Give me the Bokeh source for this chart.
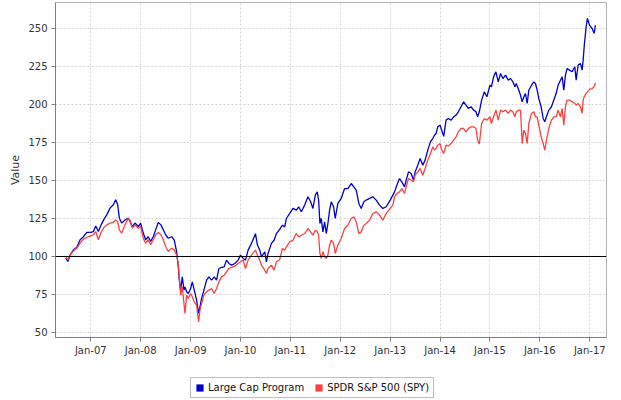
from datetime import datetime
from bokeh.plotting import figure
from bokeh.layouts import column
from bokeh.models import (FixedTicker, DatetimeTickFormatter, Span, Legend, LegendItem,
                          ColumnDataSource, Range1d)
from bokeh.embed import file_html
from bokeh.resources import INLINE

# ---- data ----
t_years = [
    2006.50, 2006.54, 2006.587, 2006.653, 2006.72, 2006.787, 2006.853, 2006.92, 2007.0, 2007.053,
    2007.10, 2007.153, 2007.207, 2007.267, 2007.32, 2007.387, 2007.453, 2007.50, 2007.54, 2007.573,
    2007.62, 2007.687, 2007.753, 2007.787, 2007.833, 2007.887, 2007.953, 2008.0, 2008.053, 2008.10,
    2008.153, 2008.20, 2008.253, 2008.30, 2008.353, 2008.407, 2008.453, 2008.50, 2008.553, 2008.62,
    2008.673, 2008.72, 2008.753, 2008.773, 2008.80, 2008.833, 2008.867, 2008.887, 2008.92, 2008.953,
    2009.0, 2009.033, 2009.073, 2009.12, 2009.16, 2009.187, 2009.22, 2009.267, 2009.32, 2009.367,
    2009.42, 2009.473, 2009.52, 2009.567, 2009.62, 2009.673, 2009.72, 2009.767, 2009.82, 2009.887,
    2009.953, 2010.0, 2010.053, 2010.10, 2010.153, 2010.22, 2010.30, 2010.34, 2010.387, 2010.42,
    2010.487, 2010.52, 2010.553, 2010.62, 2010.673, 2010.72, 2010.787, 2010.84, 2010.887, 2010.92,
    2010.987, 2011.053, 2011.12, 2011.167, 2011.22, 2011.287, 2011.353, 2011.407, 2011.453, 2011.50,
    2011.54, 2011.567, 2011.593, 2011.62, 2011.653, 2011.687, 2011.72, 2011.753, 2011.787, 2011.82,
    2011.867, 2011.90, 2011.953, 2012.02, 2012.087, 2012.153, 2012.22, 2012.273, 2012.32, 2012.373,
    2012.42, 2012.473, 2012.52, 2012.587, 2012.653, 2012.72, 2012.787, 2012.853, 2012.92, 2013.0,
    2013.053, 2013.087, 2013.133, 2013.187, 2013.233, 2013.287, 2013.32, 2013.367, 2013.42, 2013.467,
    2013.50, 2013.553, 2013.60, 2013.653, 2013.70, 2013.753, 2013.807, 2013.853, 2013.887, 2013.92,
    2013.953, 2014.0, 2014.033, 2014.073, 2014.12, 2014.167, 2014.22, 2014.273, 2014.32, 2014.367,
    2014.42, 2014.473, 2014.52, 2014.567, 2014.62, 2014.673, 2014.72, 2014.753, 2014.787, 2014.833,
    2014.887, 2014.94, 2015.0, 2015.03, 2015.073, 2015.12, 2015.167, 2015.213, 2015.26, 2015.313,
    2015.367, 2015.413, 2015.46, 2015.50, 2015.527, 2015.58, 2015.613, 2015.647, 2015.68, 2015.713,
    2015.747, 2015.78, 2015.833, 2015.88, 2015.913, 2015.947, 2015.98, 2016.027, 2016.067, 2016.10,
    2016.133, 2016.18, 2016.233, 2016.28, 2016.327, 2016.367, 2016.413, 2016.447, 2016.48, 2016.513,
    2016.547, 2016.593, 2016.647, 2016.70, 2016.727, 2016.767, 2016.813, 2016.847, 2016.867, 2016.893,
    2016.927, 2016.953, 2016.993, 2017.047, 2017.087, 2017.113,
]

large_cap = [
    99.0, 96.7, 101.0, 104.4, 106.0, 111.0, 113.0, 115.8, 115.8, 116.4,
    120.0, 116.4, 120.8, 124.6, 127.4, 131.8, 134.0, 137.3, 134.0, 125.2,
    122.0, 124.0, 125.2, 123.0, 119.7, 122.0, 119.7, 122.0, 115.4, 111.0,
    113.0, 109.9, 113.0, 117.5, 122.4, 120.8, 117.5, 114.3, 112.0, 113.0,
    110.7, 103.0, 93.2, 84.4, 77.9, 86.6, 77.9, 80.0, 76.8, 75.7,
    78.9, 83.3, 77.9, 71.3, 62.5, 66.9, 72.4, 77.9, 84.4, 86.6,
    84.4, 86.6, 84.4, 92.1, 92.8, 93.2, 97.6, 95.4, 94.3, 95.4,
    97.6, 100.9, 98.7, 97.6, 104.2, 108.6, 115.0, 107.5, 104.2, 99.8,
    103.0, 96.5, 102.0, 108.6, 110.7, 115.0, 117.8, 120.6, 119.5, 125.0,
    128.3, 131.6, 130.5, 132.7, 129.4, 133.8, 139.3, 136.0, 131.6, 140.4,
    142.5, 137.0, 121.7, 125.0, 116.2, 122.8, 115.1, 121.7, 130.5, 136.0,
    132.7, 125.0, 134.9, 138.2, 144.7, 144.7, 148.0, 145.8, 143.6, 134.9,
    131.6, 136.0, 137.1, 138.2, 139.3, 137.1, 133.8, 131.6, 132.7, 137.1,
    140.4, 142.5, 146.9, 151.3, 149.1, 145.8, 150.2, 155.7, 154.6, 150.2,
    155.7, 160.1, 164.5, 160.1, 163.4, 170.0, 175.4, 177.6, 179.8, 180.9,
    185.3, 186.4, 183.1, 179.0, 189.7, 190.8, 189.7, 191.9, 193.0, 195.2,
    198.5, 201.8, 199.6, 197.4, 198.5, 196.3, 195.2, 191.9, 195.2, 202.9,
    208.3, 205.1, 212.7, 211.6, 218.2, 221.5, 214.9, 220.4, 217.1, 219.3,
    216.0, 217.1, 214.9, 211.6, 213.8, 209.4, 206.1, 201.8, 205.0, 207.2,
    200.7, 209.4, 212.7, 214.9, 213.8, 209.4, 203.9, 198.5, 190.8, 188.6,
    191.9, 196.3, 198.5, 202.9, 207.2, 212.7, 216.0, 218.2, 209.4, 219.3,
    223.7, 222.6, 221.5, 224.8, 216.0, 225.9, 227.0, 222.6, 229.2, 240.1,
    251.1, 256.6, 252.2, 250.0, 246.7, 252.2,
]

spy = [
    100.0, 98.0, 101.0, 103.7, 105.5, 108.8, 111.4, 112.5, 113.6, 114.3,
    116.4, 111.0, 115.8, 119.3, 120.8, 121.9, 122.4, 124.0, 123.0, 117.5,
    115.4, 120.8, 125.2, 124.0, 118.6, 120.8, 118.6, 119.7, 112.0, 108.8,
    111.0, 107.7, 111.0, 114.3, 115.8, 114.3, 111.0, 106.6, 103.3, 105.5,
    104.2, 100.9, 95.4, 86.6, 74.6, 80.0, 69.0, 62.5, 74.6, 72.4,
    75.7, 73.5, 70.2, 68.0, 57.0, 64.7, 69.0, 74.6, 76.8, 77.9,
    78.9, 75.7, 78.9, 83.3, 86.6, 87.7, 89.9, 92.1, 92.8, 93.6,
    95.4, 96.5, 97.6, 92.1, 97.6, 100.9, 104.2, 100.9, 97.6, 94.3,
    91.0, 88.8, 92.1, 94.3, 91.0, 96.5, 98.0, 105.3, 104.2, 106.4,
    109.6, 110.7, 115.1, 112.9, 114.0, 115.1, 118.4, 116.2, 114.0, 117.3,
    116.2, 114.0, 102.0, 98.7, 103.1, 99.8, 98.7, 100.9, 107.5, 110.7,
    108.6, 102.0, 107.5, 111.8, 118.4, 120.6, 125.0, 126.1, 122.8, 115.1,
    116.2, 120.6, 121.7, 123.9, 128.3, 129.4, 127.2, 123.9, 128.3, 131.6,
    133.8, 139.3, 141.4, 142.5, 144.7, 141.4, 145.8, 151.3, 150.2, 149.1,
    153.5, 155.7, 157.9, 153.5, 157.9, 163.4, 167.8, 172.1, 170.0, 171.1,
    173.2, 174.3, 170.0, 167.8, 173.2, 172.6, 174.3, 176.5, 178.7, 182.0,
    184.2, 184.2, 182.0, 184.2, 185.3, 185.3, 184.2, 176.5, 174.0, 187.5,
    190.8, 189.7, 191.9, 187.5, 191.9, 196.3, 189.7, 196.3, 195.2, 196.3,
    194.1, 196.3, 195.2, 191.9, 195.2, 196.3, 196.3, 174.3, 183.1, 181.0,
    174.3, 187.5, 194.1, 195.2, 191.9, 191.9, 186.4, 178.7, 174.3, 170.0,
    176.5, 184.2, 189.7, 191.9, 191.9, 196.3, 191.9, 197.4, 186.4, 198.5,
    202.9, 202.9, 201.8, 200.7, 199.6, 200.7, 198.5, 194.1, 202.9, 205.5,
    207.2, 208.3, 209.9, 210.5, 211.6, 214.3,
]

series_names = ["Large Cap Program", "SPDR S&P 500 (SPY)"]
series_colors = ["#0000CC", "#FF4040"]
y_ticks = [50, 75, 100, 125, 150, 175, 200, 225, 250]
x_tick_years = list(range(2007, 2018))
baseline = 100


def dec_to_dt(y):
    yr = int(y)
    a = datetime(yr, 1, 1)
    b = datetime(yr + 1, 1, 1)
    return a + (b - a) * (y - yr)


def dt_ms(d):
    return (d - datetime(1970, 1, 1)).total_seconds() * 1000.0


dates = [dec_to_dt(v) for v in t_years]
src = ColumnDataSource(dict(t=dates, a=large_cap, b=spy))

x_start = dec_to_dt(2006.2926)
x_end = dec_to_dt(2017.335)

p = figure(width=621, height=370, x_axis_type="datetime", output_backend="svg",
           toolbar_location=None,
           x_range=Range1d(x_start, x_end), y_range=Range1d(46.7, 267.1),
           min_border_left=55, min_border_right=15, min_border_top=2, min_border_bottom=33)

p.background_fill_color = "white"
p.border_fill_color = "white"
p.outline_line_color = "#b4b4b4"
p.outline_line_width = 1

# axes
font = "DejaVu Sans"
p.xaxis.ticker = FixedTicker(ticks=[dt_ms(datetime(y, 1, 1)) for y in x_tick_years])
fmt = "%b-%y"
p.xaxis.formatter = DatetimeTickFormatter(
    milliseconds=fmt, seconds=fmt, minsec=fmt, minutes=fmt, hourmin=fmt, hours=fmt,
    days=fmt, months=fmt, years=fmt)
p.yaxis.ticker = FixedTicker(ticks=y_ticks)
p.yaxis.axis_label = "Value"

for ax in (p.xaxis[0], p.yaxis[0]):
    ax.axis_line_color = "#808080"
    ax.major_tick_line_color = "#808080"
    ax.major_tick_in = 0
    ax.major_tick_out = 4
    ax.minor_tick_line_color = None
    ax.major_label_text_font = font
    ax.major_label_text_font_size = "10px"
    ax.major_label_text_color = "#333333"
p.xaxis.major_label_standoff = 3
p.yaxis.major_label_standoff = 4
p.yaxis.axis_label_text_font = font
p.yaxis.axis_label_text_font_size = "11px"
p.yaxis.axis_label_text_font_style = "normal"
p.yaxis.axis_label_text_color = "#333333"
p.yaxis.axis_label_standoff = 3

# grid
for g in (p.xgrid[0], p.ygrid[0]):
    g.grid_line_color = "#d4d4d4"
    g.grid_line_dash = "2 2"
    g.grid_line_width = 1

# baseline
p.add_layout(Span(location=baseline, dimension="width", line_color="black", line_width=1))

# lines (series 0 first, series 1 on top)
p.line("t", "a", source=src, line_color=series_colors[0], line_width=1.3)
p.line("t", "b", source=src, line_color=series_colors[1], line_width=1.3)

# ---- legend strip below the chart ----
lg = figure(width=621, height=30, output_backend="svg", toolbar_location=None,
            x_axis_type=None, y_axis_type=None, min_border=0,
            x_range=Range1d(0, 1), y_range=Range1d(0, 1))
lg.outline_line_color = None
lg.background_fill_color = "white"
lg.border_fill_color = "white"

# swatch renderers (their data lie outside this strip's range; only the legend shows them)
sw0 = lg.quad(left="t", right="t", top="a", bottom="a", source=src,
              fill_color=series_colors[0], line_color=None)
sw1 = lg.quad(left="t", right="t", top="b", bottom="b", source=src,
              fill_color=series_colors[1], line_color=None)

legend = Legend(items=[LegendItem(label=series_names[0], renderers=[sw0]),
                       LegendItem(label=series_names[1], renderers=[sw1])],
                orientation="horizontal", location=(135, 2), margin=0,
                padding=4, spacing=10, glyph_width=9, glyph_height=9,
                label_standoff=4, label_height=9,
                label_text_font=font, label_text_font_size="10px",
                label_text_color="#111111",
                border_line_color="#808080", border_line_width=1,
                background_fill_color="white", background_fill_alpha=1.0)
lg.add_layout(legend, "center")

layout = column(p, lg, spacing=0)
open("out.html", "w").write(file_html(layout, INLINE))
